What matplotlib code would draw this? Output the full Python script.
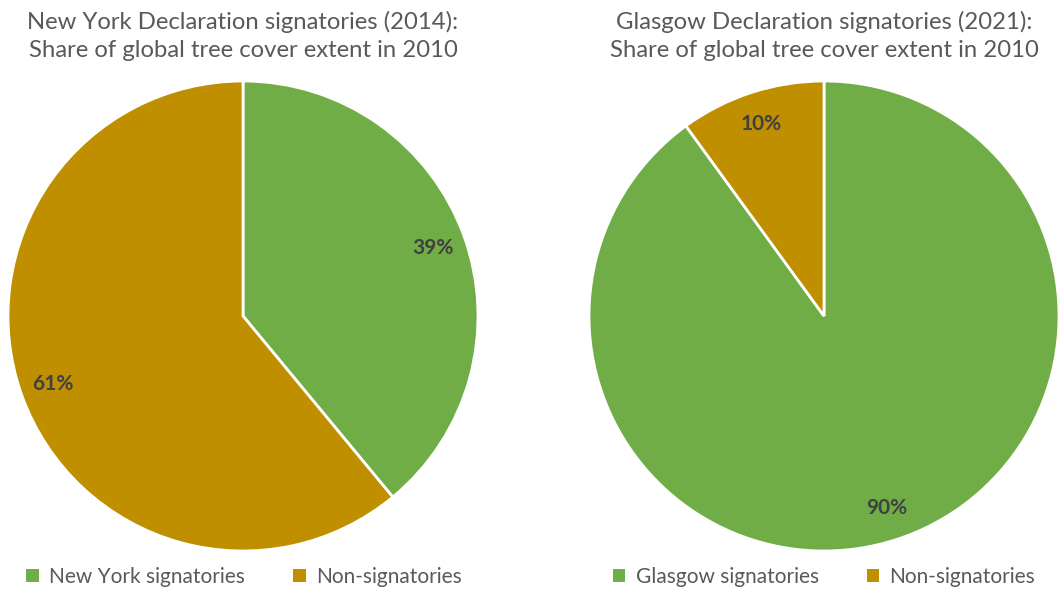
import matplotlib.pyplot as plt
from matplotlib.patches import Patch

plt.rcParams['font.family'] = ['Lato', 'DejaVu Sans']

# data
titles = ['New York Declaration signatories (2014):\nShare of global tree cover extent in 2010',
          'Glasgow Declaration signatories (2021):\nShare of global tree cover extent in 2010']
labels_ny = ['New York signatories', 'Non-signatories']
labels_gl = ['Glasgow signatories', 'Non-signatories']
share_ny = [39, 61]
share_gl = [90, 10]

colors = ['#70AD47', '#BF8F00']
txt_gray = '#595959'

fig = plt.figure(figsize=(10.61, 5.90), dpi=100)

def draw_pie(cx, cy, r, values, names, title, legend_x):
    W, H = 1061, 590
    ax = fig.add_axes([(cx - r) / W, (H - cy - r) / H, 2 * r / W, 2 * r / H])
    ax.pie(values, colors=colors, startangle=90, counterclock=False,
           autopct='%d%%', pctdistance=0.86, radius=1,
           wedgeprops=dict(edgecolor='white', linewidth=2),
           textprops=dict(color='#404040', fontsize=15, fontweight='bold'))
    ax.set_xlim(-1, 1)
    ax.set_ylim(-1, 1)
    ax.set_aspect('auto')
    ax.axis('off')
    fig.text(cx / W, 1 - 36 / H, title, ha='center', va='center',
             fontsize=17.2, color=txt_gray, linespacing=1.38)
    handles = [Patch(facecolor=c) for c in colors]
    fig.legend(handles, names, loc='center', bbox_to_anchor=(legend_x / W, 1 - 577 / H),
               ncol=2, frameon=False, fontsize=15, labelcolor=txt_gray,
               handlelength=0.6, handleheight=0.6, handletextpad=0.5, columnspacing=2.3)

draw_pie(243, 316, 235, share_ny, labels_ny, titles[0], 244)
draw_pie(824, 316, 235, share_gl, labels_gl, titles[1], 824)

plt.savefig('out.png', dpi=100)
